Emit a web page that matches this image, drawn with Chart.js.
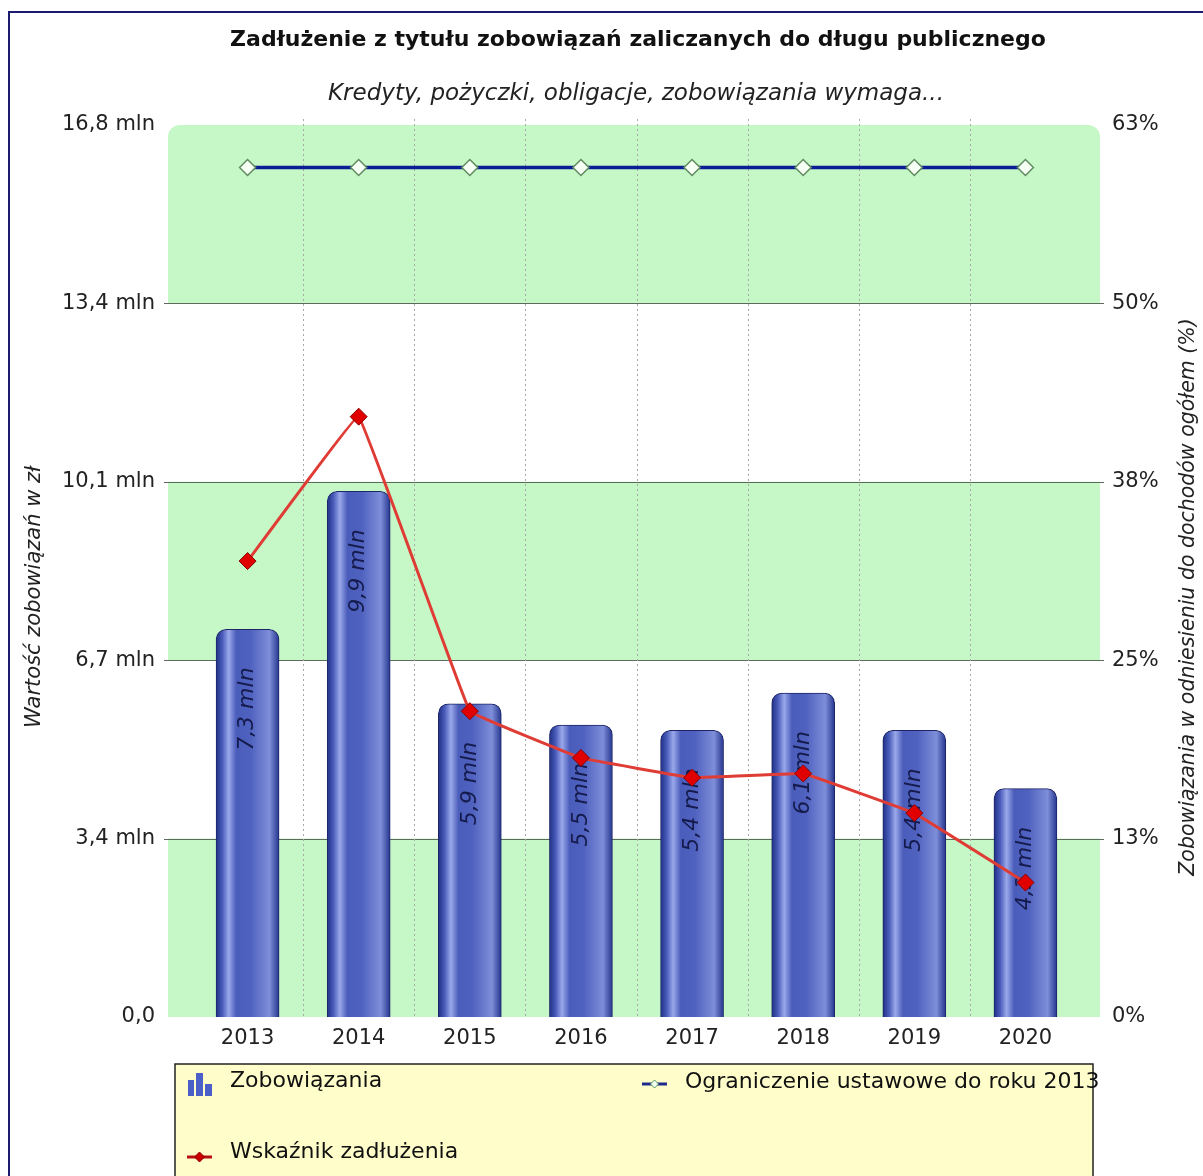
<!DOCTYPE html>
<html lang="pl">
  <head>
    <meta charset="UTF-8" />
    <title>Zadłużenie z tytułu zobowiązań</title>
    <script src="https://cdn.jsdelivr.net/npm/chart.js"></script>
    <style>
      html, body { margin: 0; padding: 0; background: #fff; }
      #wrap { position: relative; width: 1203px; height: 1176px; }
    </style>
  </head>
  <body>
    <div id="wrap"><canvas id="debt-chart"></canvas></div>

    <script>
      // dane
      const YEARS = ["2013", "2014", "2015", "2016", "2017", "2018", "2019", "2020"];
      const DEBT_MLN = [7.3, 9.9, 5.9, 5.5, 5.4, 6.1, 5.4, 4.3];
      const DEBT_RATIO = [32.2, 42.4, 21.6, 18.3, 16.9, 17.2, 14.4, 9.5];
      const LIMIT = [60, 60, 60, 60, 60, 60, 60, 60];
      const Y_TICKS = [0, 3.36, 6.72, 10.08, 13.44, 16.8];
      const Y2_TICKS = [0, 12.6, 25.2, 37.8, 50.4, 63];

      const TITLE = "Zadłużenie z tytułu zobowiązań zaliczanych do długu publicznego";
      const SUBTITLE = "Kredyty, pożyczki, obligacje, zobowiązania wymaga...";
      const Y_TITLE = "Wartość zobowiązań w zł";
      const Y2_TITLE = "Zobowiązania w odniesieniu do dochodów ogółem (%)";

      const FONT = '"DejaVu Sans", sans-serif';
      const GREEN = "#c6f7c6";
      const BAR_W = 63;

      const fmtMln = (v) => v.toFixed(1).replace(".", ",");

      function barGradient(c) {
        const ch = c.chart;
        if (!ch.chartArea) return "#4a5cc0";
        const cx = ch.scales.x.getPixelForValue(c.dataIndex);
        const g = ch.ctx.createLinearGradient(cx - BAR_W / 2, 0, cx + BAR_W / 2, 0);
        g.addColorStop(0, "#1f2f86");
        g.addColorStop(0.1, "#4a5cba");
        g.addColorStop(0.2, "#9aa8ea");
        g.addColorStop(0.32, "#4b5dbb");
        g.addColorStop(0.55, "#5062bf");
        g.addColorStop(0.85, "#7e8ed9");
        g.addColorStop(1, "#25358e");
        return g;
      }

      // tło: pasy, linie siatki
      const backdrop = {
        id: "backdrop",
        beforeDatasetsDraw(chart) {
          const { ctx, chartArea: a, scales } = chart;
          const y = scales.y, x = scales.x;
          const L = a.left - 24, R = a.right + 19;
          ctx.save();
          ctx.fillStyle = GREEN;
          for (let i = 0; i + 1 < Y_TICKS.length; i += 2) {
            const top = y.getPixelForValue(Y_TICKS[i + 1]);
            const bot = y.getPixelForValue(Y_TICKS[i]);
            const r = i + 2 >= Y_TICKS.length ? [12, 12, 0, 0] : 0;
            ctx.beginPath();
            ctx.roundRect(L, top, R - L, bot - top, r);
            ctx.fill();
          }
          ctx.strokeStyle = "#5d6b5d";
          ctx.lineWidth = 1;
          for (let i = 1; i < Y_TICKS.length - 1; i++) {
            const py = Math.round(y.getPixelForValue(Y_TICKS[i])) + 0.5;
            ctx.beginPath();
            ctx.moveTo(L - 4, py);
            ctx.lineTo(R + 4, py);
            ctx.stroke();
          }
          ctx.strokeStyle = "#a8a8a8";
          ctx.setLineDash([2, 3]);
          for (let i = 0; i + 1 < YEARS.length; i++) {
            const px = Math.round((x.getPixelForValue(i) + x.getPixelForValue(i + 1)) / 2) + 0.5;
            ctx.beginPath();
            ctx.moveTo(px, a.top - 6);
            ctx.lineTo(px, a.bottom);
            ctx.stroke();
          }
          ctx.restore();
        },
        afterDatasetDraw(chart, args) {
          if (args.index !== 0) return;
          const { ctx } = chart;
          ctx.save();
          ctx.font = "italic 22px " + FONT;
          ctx.fillStyle = "#151b4c";
          ctx.textAlign = "right";
          ctx.textBaseline = "middle";
          args.meta.data.forEach((bar, i) => {
            ctx.save();
            ctx.translate(bar.x, bar.y + 38);
            ctx.rotate(-Math.PI / 2);
            ctx.fillText(fmtMln(DEBT_MLN[i]) + " mln", 0, 0);
            ctx.restore();
          });
          ctx.restore();
        },
        afterDraw(chart) {
          const { ctx } = chart;
          const ds = chart.data.datasets;
          ctx.save();
          // ramka
          ctx.strokeStyle = "#1c1c6e";
          ctx.lineWidth = 2;
          ctx.beginPath();
          ctx.moveTo(9, 1176);
          ctx.lineTo(9, 12);
          ctx.lineTo(1203, 12);
          ctx.stroke();

          ctx.fillStyle = "#111";
          ctx.textAlign = "center";
          ctx.textBaseline = "middle";
          ctx.font = "bold 22px " + FONT;
          ctx.fillText(TITLE, 638, 40);
          ctx.font = "italic 23px " + FONT;
          ctx.fillStyle = "#222";
          ctx.fillText(SUBTITLE, 636, 94);

          ctx.font = "italic 21px " + FONT;
          ctx.save();
          ctx.translate(35, 597);
          ctx.rotate(-Math.PI / 2);
          ctx.fillText(Y_TITLE, 0, 0);
          ctx.restore();
          ctx.save();
          ctx.translate(1189, 597);
          ctx.rotate(-Math.PI / 2);
          ctx.font = "italic 20.5px " + FONT;
          ctx.fillText(Y2_TITLE, 0, 0);
          ctx.restore();

          // legenda
          ctx.fillStyle = "#fffdca";
          ctx.fillRect(175, 1064, 918, 120);
          ctx.strokeStyle = "#222";
          ctx.lineWidth = 1.5;
          ctx.strokeRect(175, 1064, 918, 120);

          // ikona słupków
          ctx.fillStyle = "#4a60c8";
          ctx.fillRect(188, 1080, 6, 16);
          ctx.fillRect(196, 1073, 7, 23);
          ctx.fillRect(205, 1084, 7, 12);

          // ikona limitu
          ctx.strokeStyle = "#1b2a8c";
          ctx.lineWidth = 3;
          ctx.beginPath();
          ctx.moveTo(642, 1084);
          ctx.lineTo(667, 1084);
          ctx.stroke();
          diamond(ctx, 654.5, 1084, 4, "#f3fff0", "#5c9a5c");

          // ikona wskaźnika
          ctx.strokeStyle = "#b81010";
          ctx.lineWidth = 3;
          ctx.beginPath();
          ctx.moveTo(187, 1157);
          ctx.lineTo(212, 1157);
          ctx.stroke();
          diamond(ctx, 199.5, 1157, 5, "#cc0000", "#880000");

          ctx.fillStyle = "#111";
          ctx.textAlign = "left";
          ctx.font = "22px " + FONT;
          ctx.fillText(ds[0].label, 230, 1081);
          ctx.fillText(ds[1].label, 685, 1082);
          ctx.fillText(ds[2].label, 230, 1152);
          ctx.restore();
        },
      };

      function diamond(ctx, x, y, r, fill, stroke) {
        ctx.beginPath();
        ctx.moveTo(x - r, y);
        ctx.lineTo(x, y - r);
        ctx.lineTo(x + r, y);
        ctx.lineTo(x, y + r);
        ctx.closePath();
        ctx.fillStyle = fill;
        ctx.fill();
        ctx.strokeStyle = stroke;
        ctx.lineWidth = 1;
        ctx.stroke();
      }

      const tickFont = { family: FONT, size: 21 };

      new Chart(document.getElementById("debt-chart"), {
        data: {
          labels: YEARS,
          datasets: [
            {
              type: "bar",
              label: "Zobowiązania",
              data: DEBT_MLN,
              yAxisID: "y",
              order: 3,
              barThickness: BAR_W,
              backgroundColor: barGradient,
              borderColor: "#1d2566",
              borderWidth: 1,
              borderSkipped: "bottom",
              borderRadius: { topLeft: 10, topRight: 10, bottomLeft: 0, bottomRight: 0 },
            },
            {
              type: "line",
              label: "Ograniczenie ustawowe do roku 2013",
              data: LIMIT,
              yAxisID: "y2",
              order: 2,
              borderColor: "#0b1d96",
              borderWidth: 3.5,
              pointStyle: "rectRot",
              pointRadius: 8,
              pointBackgroundColor: "#f6fff4",
              pointBorderColor: "#5f8a5f",
              pointBorderWidth: 1.5,
            },
            {
              type: "line",
              label: "Wskaźnik zadłużenia",
              data: DEBT_RATIO,
              yAxisID: "y2",
              order: 1,
              borderColor: "#e03c36",
              borderWidth: 3,
              tension: 0.04,
              pointStyle: "rectRot",
              pointRadius: 8.5,
              pointBackgroundColor: "#e00000",
              pointBorderColor: "#8a0000",
              pointBorderWidth: 1,
            },
          ],
        },
        options: {
          responsive: true,
          maintainAspectRatio: false,
          animation: false,
          layout: { padding: { left: 0, right: 0, top: 125, bottom: 119 } },
          plugins: { legend: { display: false }, tooltip: { enabled: false } },
          scales: {
            x: {
              grid: { display: false, drawTicks: false },
              border: { display: false },
              ticks: { font: tickFont, color: "#222", padding: 9 },
              afterFit: (s) => { s.height = 40; },
            },
            y: {
              position: "left",
              min: 0,
              max: 16.8,
              afterBuildTicks: (s) => { s.ticks = Y_TICKS.map((v) => ({ value: v })); },
              grid: { display: false, drawTicks: false },
              border: { display: false },
              ticks: {
                font: tickFont,
                color: "#222",
                padding: 37,
                callback: (v) => (v === 0 ? "0,0" : fmtMln(v) + " mln"),
              },
              afterFit: (s) => { s.width = 192; },
            },
            y2: {
              position: "right",
              min: 0,
              max: 63,
              afterBuildTicks: (s) => { s.ticks = Y2_TICKS.map((v) => ({ value: v })); },
              grid: { display: false, drawTicks: false },
              border: { display: false },
              ticks: {
                font: tickFont,
                color: "#222",
                padding: 31,
                callback: (v) => Math.round(v) + "%",
              },
              afterFit: (s) => { s.width = 122; },
            },
          },
        },
        plugins: [backdrop],
      });
    </script>
  </body>
</html>
